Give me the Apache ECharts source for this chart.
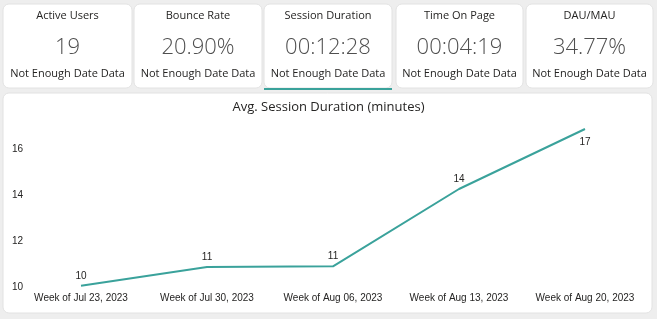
<!DOCTYPE html>
<html><head><meta charset="utf-8">
<script src="https://cdn.jsdelivr.net/npm/echarts@6/dist/echarts.min.js"></script>
<style>html,body{margin:0;padding:0;background:#eeeeee;}#c{width:657px;height:319px;}</style>
</head><body><div id="c"></div>
<script>
const cardTitles = ['Active Users','Bounce Rate','Session Duration','Time On Page','DAU/MAU'];
const cardValues = ['19','20.90%','00:12:28','00:04:19','34.77%'];
const cardNotes = ['Not Enough Date Data','Not Enough Date Data','Not Enough Date Data','Not Enough Date Data','Not Enough Date Data'];
const categories = ['Week of Jul 23, 2023','Week of Jul 30, 2023','Week of Aug 06, 2023','Week of Aug 13, 2023','Week of Aug 20, 2023'];
const values = [10.05, 10.87, 10.9, 14.26, 16.87];
const labelPos = ['top','top','top','top','bottom'];

const cardX = [3,134,264,396,526];
const cardW = [129,128,128,127,127];
const teal = '#3aa29b';
const font = '"Open Sans", "Noto Sans", sans-serif';
const axFont = '"Liberation Sans", Arial, sans-serif';

const graphics = [];
graphics.push({type:'rect', shape:{x:3,y:93,width:649,height:220,r:6}, style:{fill:'#fff', stroke:'#e2e2e2', lineWidth:1}, z:-10});
cardTitles.forEach((t,i)=>{
  const cx = cardX[i] + cardW[i]/2;
  graphics.push({type:'rect', shape:{x:cardX[i],y:4,width:cardW[i],height:84,r:6}, style:{fill:'#fff', stroke:'#e2e2e2', lineWidth:1}, z:-10});
  graphics.push({type:'text', x:cx, y:16, style:{text:t, fill:'#252423', font:'11px '+font, align:'center', verticalAlign:'middle'}});
  graphics.push({type:'text', x:cx, y:48, style:{text:cardValues[i], fill:'#4f4f4f', font:'300 22px '+font, align:'center', verticalAlign:'middle'}});
  graphics.push({type:'text', x:cx, y:74, style:{text:cardNotes[i], fill:'#252423', font:'11px '+font, align:'center', verticalAlign:'middle'}});
});
graphics.push({type:'rect', shape:{x:264,y:88,width:128,height:2}, style:{fill:teal}});

const chart = echarts.init(document.getElementById('c'));
chart.setOption({
  animation:false,
  title:{text:'Avg. Session Duration (minutes)', left:'center', top:96, textStyle:{fontFamily:font, fontSize:13, fontWeight:'normal', color:'#252423'}},
  graphic: graphics,
  grid:{left:18, right:9, top:126, bottom:32},
  xAxis:{type:'category', data:categories, boundaryGap:true,
    axisLine:{show:false}, axisTick:{show:false},
    axisLabel:{fontFamily:axFont, fontSize:10, color:'#252423', margin:6, interval:0}},
  yAxis:{type:'value', min:10, max:17, interval:2, splitLine:{show:false},
    axisLabel:{fontFamily:axFont, fontSize:10, color:'#252423', align:'left', margin:6,
      formatter:v=> (v%2===0 ? String(v) : '')}},
  series:[{type:'line', data:values.map((v,i)=>({value:v, label:{position:labelPos[i], distance: labelPos[i]==='bottom'?8:5}})),
    symbol:'circle', symbolSize:0.1, showSymbol:true,
    lineStyle:{color:teal, width:2}, itemStyle:{color:teal},
    label:{show:true, formatter:p=>Math.round(p.value), fontFamily:axFont, fontSize:10, color:'#252423'}}]
});
</script></body></html>
